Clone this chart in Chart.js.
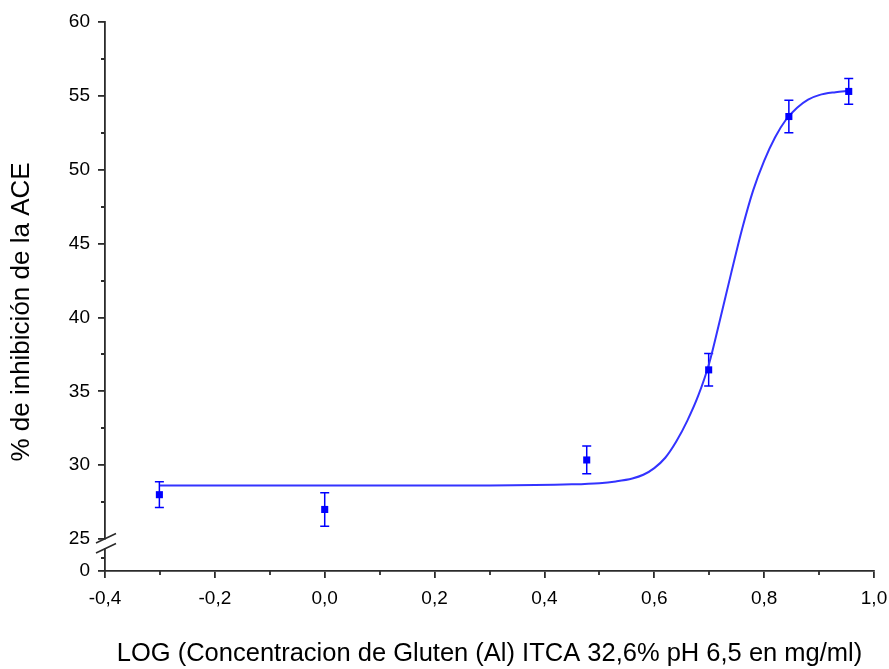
<!DOCTYPE html>
<html>
<head>
<meta charset="utf-8">
<script src="https://cdn.jsdelivr.net/npm/chart.js@4.4.1/dist/chart.umd.min.js"></script>
<style>
  html, body { margin: 0; padding: 0; background: #ffffff; }
  #wrap { width: 889px; height: 669px; }
</style>
</head>
<body>
<div id="wrap"><canvas id="c" width="889" height="669"></canvas></div>
<script>
// Measured inhibition (%) against log concentration
const logConc   = [-0.301, 0.0, 0.477, 0.699, 0.845, 0.954];
const inhib     = [28.0, 27.0, 30.35, 36.45, 53.6, 55.3];
const inhibErr  = [0.87, 1.13, 0.94, 1.1, 1.1, 0.87];

// Fitted dose-response curve, sampled along x
const fitX = [-0.3, 0.0, 0.3, 0.45, 0.5, 0.53, 0.56, 0.58, 0.6, 0.62, 0.64, 0.66, 0.68, 0.7, 0.72, 0.74, 0.76, 0.78, 0.8, 0.82, 0.84, 0.86, 0.88, 0.9, 0.93, 0.954];
const fitY = [28.62, 28.62, 28.63, 28.7, 28.78, 28.9, 29.1, 29.35, 29.8, 30.5, 31.6, 33.0, 34.7, 36.9, 39.9, 43.0, 46.0, 48.6, 50.6, 52.2, 53.4, 54.2, 54.75, 55.05, 55.25, 55.35];

// Axis ticks
const xMajorTicks = [-0.4, -0.2, 0.0, 0.2, 0.4, 0.6, 0.8, 1.0];
const xMinorTicks = [-0.3, -0.1, 0.1, 0.3, 0.5, 0.7, 0.9];
const yMajorTicks = [25, 30, 35, 40, 45, 50, 55, 60];
const yMinorTicks = [27.5, 32.5, 37.5, 42.5, 47.5, 52.5, 57.5];
const yLowTicks = [0];
const yLowMinorTicks = [2.5];

const xTitle = 'LOG (Concentracion de Gluten (Al) ITCA 32,6% pH 6,5 en mg/ml)';
const yTitle = '% de inhibición de la ACE';

const AXIS = '#2b2b2b';
const FONT = '"Liberation Sans", Arial, Helvetica, sans-serif';
Chart.defaults.font.family = FONT;
Chart.defaults.color = '#000000';

const fmt = v => {
  if (Math.abs(v) < 1e-9) v = 0;
  return v.toFixed(1).replace('.', ',');
};

// error bars, minor ticks, axis break and vertical title
const decor = {
  id: 'decor',
  beforeDatasetsDraw(chart) {
    const { ctx, scales } = chart;
    const sx = scales.x, sy = scales.y;
    ctx.save();
    ctx.strokeStyle = '#0000ff';
    ctx.lineWidth = 1.5;
    logConc.forEach((v, i) => {
      const px = sx.getPixelForValue(v);
      const top = sy.getPixelForValue(inhib[i] + inhibErr[i]);
      const bot = sy.getPixelForValue(inhib[i] - inhibErr[i]);
      ctx.beginPath();
      ctx.moveTo(px, top); ctx.lineTo(px, bot);
      ctx.moveTo(px - 4.5, top); ctx.lineTo(px + 4.5, top);
      ctx.moveTo(px - 4.5, bot); ctx.lineTo(px + 4.5, bot);
      ctx.stroke();
    });
    ctx.restore();
  },
  afterDraw(chart) {
    const { ctx, scales } = chart;
    const sx = scales.x, sy = scales.y, sl = scales.y0;
    ctx.save();
    ctx.strokeStyle = AXIS;
    ctx.lineWidth = 1.8;
    ctx.beginPath();
    xMinorTicks.forEach(v => {
      const px = Math.round(sx.getPixelForValue(v));
      ctx.moveTo(px, sx.top); ctx.lineTo(px, sx.top + 4);
    });
    yMinorTicks.forEach(v => {
      const py = Math.round(sy.getPixelForValue(v));
      ctx.moveTo(sy.right - 4, py); ctx.lineTo(sy.right, py);
    });
    yLowMinorTicks.forEach(v => {
      const py = Math.round(sl.getPixelForValue(v));
      ctx.moveTo(sl.right - 4, py); ctx.lineTo(sl.right, py);
    });
    ctx.stroke();

    // axis break between the two y segments
    const ax = sy.right;
    const j = sy.bottom;
    ctx.fillStyle = '#ffffff';
    ctx.fillRect(ax - 3, j + 0.5, 6, 9);
    ctx.lineWidth = 1.6;
    ctx.beginPath();
    ctx.moveTo(ax - 9, j + 4); ctx.lineTo(ax + 11, j - 5.5);
    ctx.moveTo(ax - 9, j + 14); ctx.lineTo(ax + 11, j + 4.5);
    ctx.stroke();

    // vertical axis title
    ctx.translate(22, 312);
    ctx.rotate(-Math.PI / 2);
    ctx.fillStyle = '#000000';
    ctx.font = '26px ' + FONT;
    ctx.textAlign = 'center';
    ctx.textBaseline = 'middle';
    ctx.fillText(yTitle, 0, 0);
    ctx.restore();
  }
};

const gridOpts = {
  drawOnChartArea: false,
  drawTicks: true,
  tickLength: 7,
  color: AXIS,
  lineWidth: 1.8
};

new Chart(document.getElementById('c'), {
  type: 'scatter',
  data: {
    datasets: [
      {
        label: 'ajuste',
        data: fitX.map((x, i) => ({ x, y: fitY[i] })),
        showLine: true,
        borderColor: '#3333ff',
        borderWidth: 2,
        pointRadius: 0,
        cubicInterpolationMode: 'monotone',
        yAxisID: 'y',
        order: 2
      },
      {
        label: 'datos',
        data: logConc.map((x, i) => ({ x, y: inhib[i] })),
        showLine: false,
        pointStyle: 'rect',
        pointRadius: 5,
        backgroundColor: '#0000ff',
        borderColor: '#0000ff',
        borderWidth: 0,
        yAxisID: 'y',
        order: 1
      }
    ]
  },
  options: {
    responsive: false,
    animation: false,
    devicePixelRatio: 1,
    layout: { padding: { top: 22, right: 15, left: 0, bottom: 0 } },
    plugins: { legend: { display: false }, tooltip: { enabled: false } },
    scales: {
      x: {
        type: 'linear',
        min: -0.4,
        max: 1.0,
        afterBuildTicks: s => { s.ticks = xMajorTicks.map(v => ({ value: v })); },
        afterFit: s => { s.height = 98; s.paddingRight = 13; s.paddingLeft = 16; },
        border: { color: AXIS, width: 1.8 },
        grid: gridOpts,
        ticks: {
          padding: 9,
          autoSkip: false,
          maxRotation: 0,
          font: { size: 19 },
          color: '#000000',
          callback: v => fmt(v)
        },
        title: {
          display: true,
          text: xTitle,
          font: { size: 25.5 },
          color: '#000000',
          padding: { top: 0, bottom: 0 }
        }
      },
      y0: {
        type: 'linear',
        position: 'left',
        stack: 'v',
        stackWeight: 32,
        min: 0,
        max: 6,
        afterBuildTicks: s => { s.ticks = yLowTicks.map(v => ({ value: v })); },
        afterFit: s => { s.width = 105; },
        border: { color: AXIS, width: 1.8 },
        grid: gridOpts,
        ticks: { padding: 8, font: { size: 19 }, color: '#000000' }
      },
      y: {
        type: 'linear',
        position: 'left',
        stack: 'v',
        stackWeight: 517,
        min: 25,
        max: 60,
        afterBuildTicks: s => { s.ticks = yMajorTicks.map(v => ({ value: v })); },
        afterFit: s => { s.width = 105; },
        border: { color: AXIS, width: 1.8 },
        grid: gridOpts,
        ticks: { padding: 8, font: { size: 19 }, color: '#000000' }
      }
    }
  },
  plugins: [decor]
});
</script>
</body>
</html>
